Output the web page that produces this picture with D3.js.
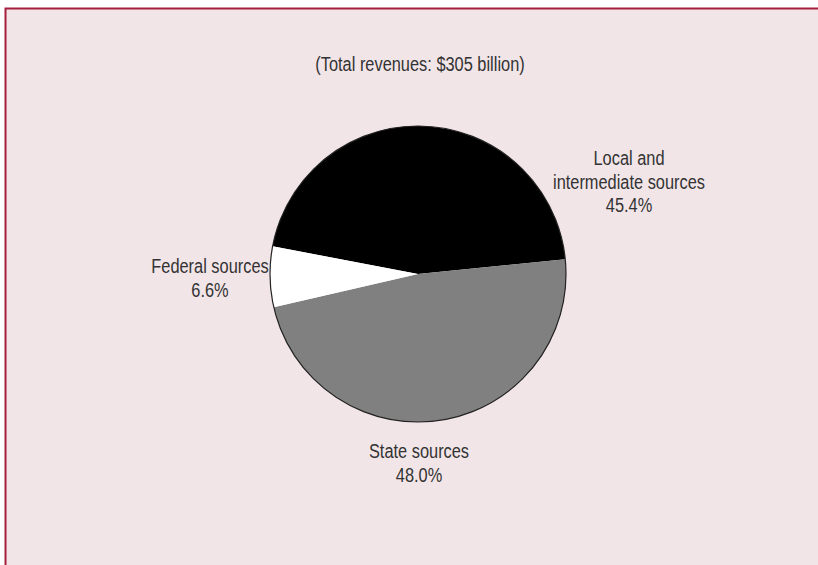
<!DOCTYPE html>
<html>
<head>
<meta charset="utf-8">
<script src="https://cdn.jsdelivr.net/npm/d3@7"></script>
<style>
  html, body { margin: 0; padding: 0; background: #ffffff; }
  svg { display: block; }
  text { font-family: "Liberation Sans Narrow", "Liberation Sans", Arial, sans-serif; fill: #333333; }
</style>
</head>
<body>
<svg id="chart" width="818" height="565"></svg>
<script>
// Revenue sources for public schools (percent of total)
const categories = ["Local and intermediate sources", "State sources", "Federal sources"];
const shares = [45.4, 48.0, 6.6];
const shareLabels = ["45.4%", "48.0%", "6.6%"];
const labelLines = [["Local and", "intermediate sources"], ["State sources"], ["Federal sources"]];
const sliceColors = ["#000000", "#808080", "#ffffff"];
const title = "(Total revenues: $305 billion)";

const W = 818, H = 565;
const FONT = 21, SQUEEZE = 0.78; // condensed lettering
const svg = d3.select("#chart");

function label(x, y, t) {
  svg.append("text")
    .attr("transform", `translate(${x},${y}) scale(${SQUEEZE},1)`)
    .attr("text-anchor", "middle").attr("font-size", FONT).text(t);
}

// panel with dark red rule on the top and left edges
svg.append("rect").attr("x", 5).attr("y", 8).attr("width", W - 5).attr("height", H - 8)
  .attr("fill", "#f2e5e8");
svg.append("path").attr("d", `M5.5,${H}V8.5H${W}`)
  .attr("fill", "none").attr("stroke", "#a41f3c").attr("stroke-width", 2);

label(420, 71, title);

const cx = 418, cy = 274, r = 148;
const start = -79.2 * Math.PI / 180;
const pie = d3.pie().sort(null).value(d => d).startAngle(start).endAngle(start + 2 * Math.PI);
const arcs = pie(shares);
const arc = d3.arc().innerRadius(0).outerRadius(r);

const g = svg.append("g").attr("transform", `translate(${cx},${cy})`);
g.selectAll("path.slice").data(arcs).join("path")
  .attr("class", "slice")
  .attr("d", arc)
  .attr("fill", (d, i) => sliceColors[i]);
g.append("circle").attr("r", r).attr("fill", "none").attr("stroke", "#222").attr("stroke-width", 1.2);

// label anchors (centre x, first baseline y) for each slice
const labelPos = [[629, 165], [419, 458], [210, 273]];
const lineGap = 23.5;
categories.forEach((c, i) => {
  const [lx, ly] = labelPos[i];
  labelLines[i].concat([shareLabels[i]]).forEach((t, j) => label(lx, ly + j * lineGap, t));
});
</script>
</body>
</html>
